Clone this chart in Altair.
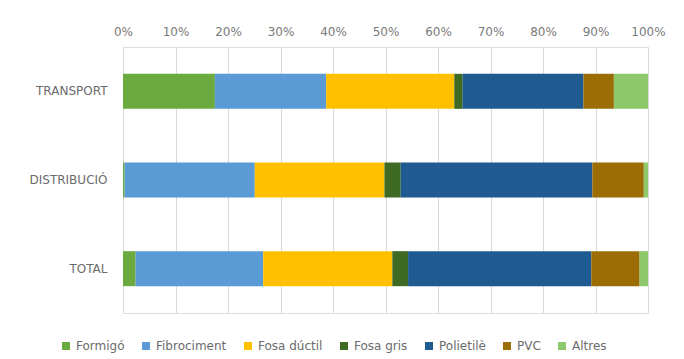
import altair as alt
import pandas as pd

categories = ["TRANSPORT", "DISTRIBUCIÓ", "TOTAL"]
materials = ["Formigó", "Fibrociment", "Fosa dúctil", "Fosa gris", "Polietilè", "PVC", "Altres"]
colors = ["#6BAA3F", "#5A9BD5", "#FFC000", "#3F6A24", "#1F5A91", "#9C6C05", "#8DC96A"]

transport = [17.5, 21.2, 24.4, 1.6, 23.0, 5.8, 6.5]
distribucio = [0.3, 24.8, 24.7, 3.1, 36.5, 9.8, 0.8]
total = [2.4, 24.3, 24.6, 3.0, 34.9, 9.2, 1.6]

tick_values = [0, 10, 20, 30, 40, 50, 60, 70, 80, 90, 100]

rows = []
for cat, vals in zip(categories, [transport, distribucio, total]):
    for i, (m, v) in enumerate(zip(materials, vals)):
        rows.append({"cat": cat, "mat": m, "val": v, "ord": i})
df = pd.DataFrame(rows)

FONT = "DejaVu Sans"

chart = alt.Chart(df).mark_bar(size=35).encode(
    y=alt.Y("cat:N", sort=categories, title=None,
            scale=alt.Scale(paddingInner=0.6, paddingOuter=0.3),
            axis=alt.Axis(ticks=False, domain=False, labelPadding=16,
                          labelFontSize=12, labelColor="#6b6b6b", labelFont=FONT)),
    x=alt.X("val:Q", stack="zero", title=None,
            scale=alt.Scale(domain=[0, 100], nice=False),
            axis=alt.Axis(orient="top", values=tick_values, labelExpr="datum.value + '%'",
                          ticks=False, domain=False, labelPadding=9, labelFlush=False,
                          labelFontSize=12, labelColor="#7a7a7a", labelFont=FONT,
                          grid=True, gridColor="#d9d9d9", gridWidth=1)),
    color=alt.Color("mat:N", sort=materials,
                    scale=alt.Scale(domain=materials, range=colors),
                    legend=alt.Legend(title=None, orient="none", direction="horizontal",
                                      legendX=-63, legendY=293,
                                      symbolType="square", symbolSize=64,
                                      symbolStrokeWidth=0,
                                      labelFontSize=12, labelColor="#6b6b6b", labelFont=FONT,
                                      columnPadding=15, labelOffset=4)),
    order=alt.Order("ord:Q"),
).properties(
    width=525,
    height=266,
    autosize=alt.AutoSizeParams(type="none"),
    padding={"left": 123, "top": 47, "right": 36, "bottom": 46},
).configure_view(stroke=None).configure(background="white")

chart.save("out.html", embed_options={"renderer": "svg", "actions": False})
